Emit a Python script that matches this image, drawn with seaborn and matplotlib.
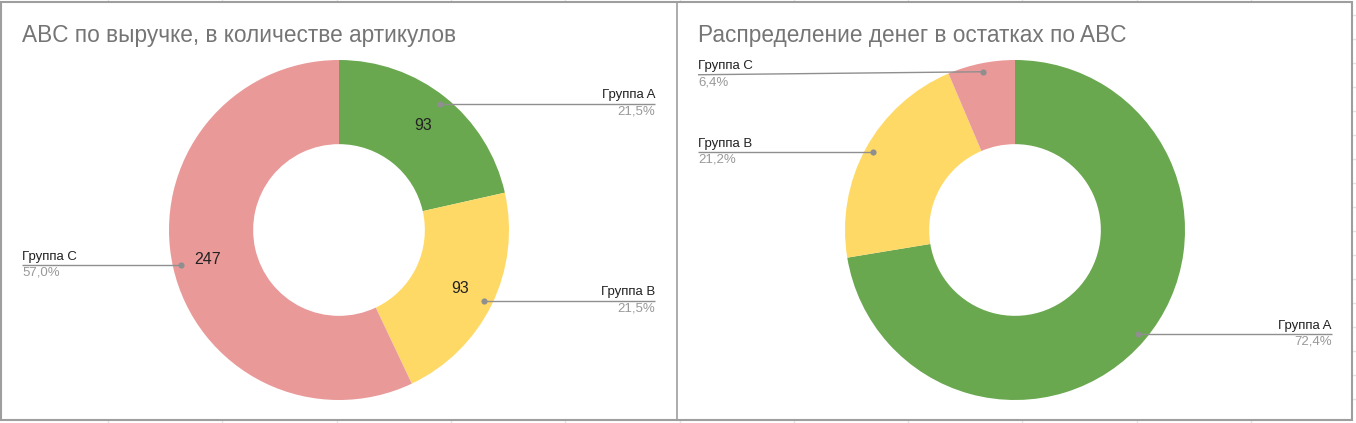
"""Two ABC donut charts (spreadsheet-style) side by side."""

import matplotlib.pyplot as plt
import numpy as np
import seaborn as sns
from matplotlib.patches import Rectangle

sns.set_theme(style="white")
plt.rcParams["font.family"] = ["Liberation Sans", "DejaVu Sans"]

# data
groups = ["Группа A", "Группа B", "Группа C"]
left_title = "ABC по выручке, в количестве артикулов"
left_counts = [93, 93, 247]
right_title = "Распределение денег в остатках по ABC"
right_shares = [72.4, 21.2, 6.4]

PALETTE = ["#6aa84f", "#ffd966", "#ea9999"]
BORDER = "#9e9e9e"
LEADER = "#8f8f8f"
W, H = 1356, 423
R = 170  # outer radius, px

# label placement per panel: side of the leader line, label x (px), y nudge (px)
LEFT_LAYOUT = {"cx": 339, "cy": 230, "sides": ["r", "r", "l"], "lx": (22, 655), "dy": [0, 0, 0]}
RIGHT_LAYOUT = {"cx": 1015, "cy": 230, "sides": ["r", "l", "l"], "lx": (698, 1332), "dy": [0, 0, 3]}


def pct_text(v):
    return f"{v:.1f}%".replace(".", ",")


def donut(ax, values, layout, show_values):
    cx, cy = layout["cx"], layout["cy"]
    total = float(sum(values))
    kw = {}
    if show_values:
        kw = dict(
            autopct=lambda p: f"{round(p * total / 100):d}",
            pctdistance=0.79,
            textprops={"fontsize": 11.5, "color": "#222222"},
        )
    ax.pie(
        values,
        colors=PALETTE,
        startangle=90,
        counterclock=False,
        radius=1,
        wedgeprops={"width": 0.495, "edgecolor": "none", "linewidth": 0},
        **kw,
    )
    # pie() resets limits/aspect, so map axes units to pixels afterwards
    ax.set_aspect("auto")
    ax.set_xlim(-cx / R, (W - cx) / R)
    ax.set_ylim(-(H - cy) / R, cy / R)
    ax.axis("off")

    shares = np.array(values) / total
    mids = np.cumsum(shares) - shares / 2
    for name, share, mid, side, nudge in zip(groups, shares, mids, layout["sides"], layout["dy"]):
        ang = np.deg2rad(90 - mid * 360)
        px, py = 0.95 * np.cos(ang), 0.95 * np.sin(ang)
        ly = py - nudge / R
        lx = ((layout["lx"][0] if side == "l" else layout["lx"][1]) - cx) / R
        ax.plot([lx, px], [ly, py], color=LEADER, lw=1.0, solid_capstyle="butt", zorder=4)
        ax.scatter([px], [py], s=20, color=LEADER, zorder=5, linewidths=0)
        ha = "right" if side == "r" else "left"
        ax.text(lx, ly + 2.5 / R, name, ha=ha, va="bottom", fontsize=9.5, color="#222222")
        ax.text(lx, ly - 1.5 / R, pct_text(share * 100), ha=ha, va="top", fontsize=9.5, color="#999999")


fig = plt.figure(figsize=(W / 100, H / 100), dpi=100)

# spreadsheet grid + panel frames
bg = fig.add_axes([0, 0, 1, 1])
bg.set_xlim(0, W)
bg.set_ylim(H, 0)
bg.axis("off")
for x in np.arange(108, W, 114.3):
    bg.axvline(x, color="#e3e3e3", lw=1, zorder=0)
for y in np.arange(15, H, 24):
    bg.axhline(y, color="#e3e3e3", lw=1, zorder=0)
bg.add_patch(Rectangle((1, 2), 1351, 418, facecolor="white", edgecolor=BORDER, lw=1.5, zorder=1))
bg.plot([676.5, 676.5], [2, 420], color=BORDER, lw=1.2, zorder=2)

ax_l = fig.add_axes([0, 0, 1, 1], facecolor="none")
donut(ax_l, left_counts, LEFT_LAYOUT, True)
ax_r = fig.add_axes([0, 0, 1, 1], facecolor="none")
donut(ax_r, right_shares, RIGHT_LAYOUT, False)

fig.text(22 / W, 1 - 42 / H, left_title, fontsize=16.3, color="#757575", va="baseline")
fig.text(698 / W, 1 - 42 / H, right_title, fontsize=16.3, color="#757575", va="baseline")

fig.savefig("out.png", dpi=100)
